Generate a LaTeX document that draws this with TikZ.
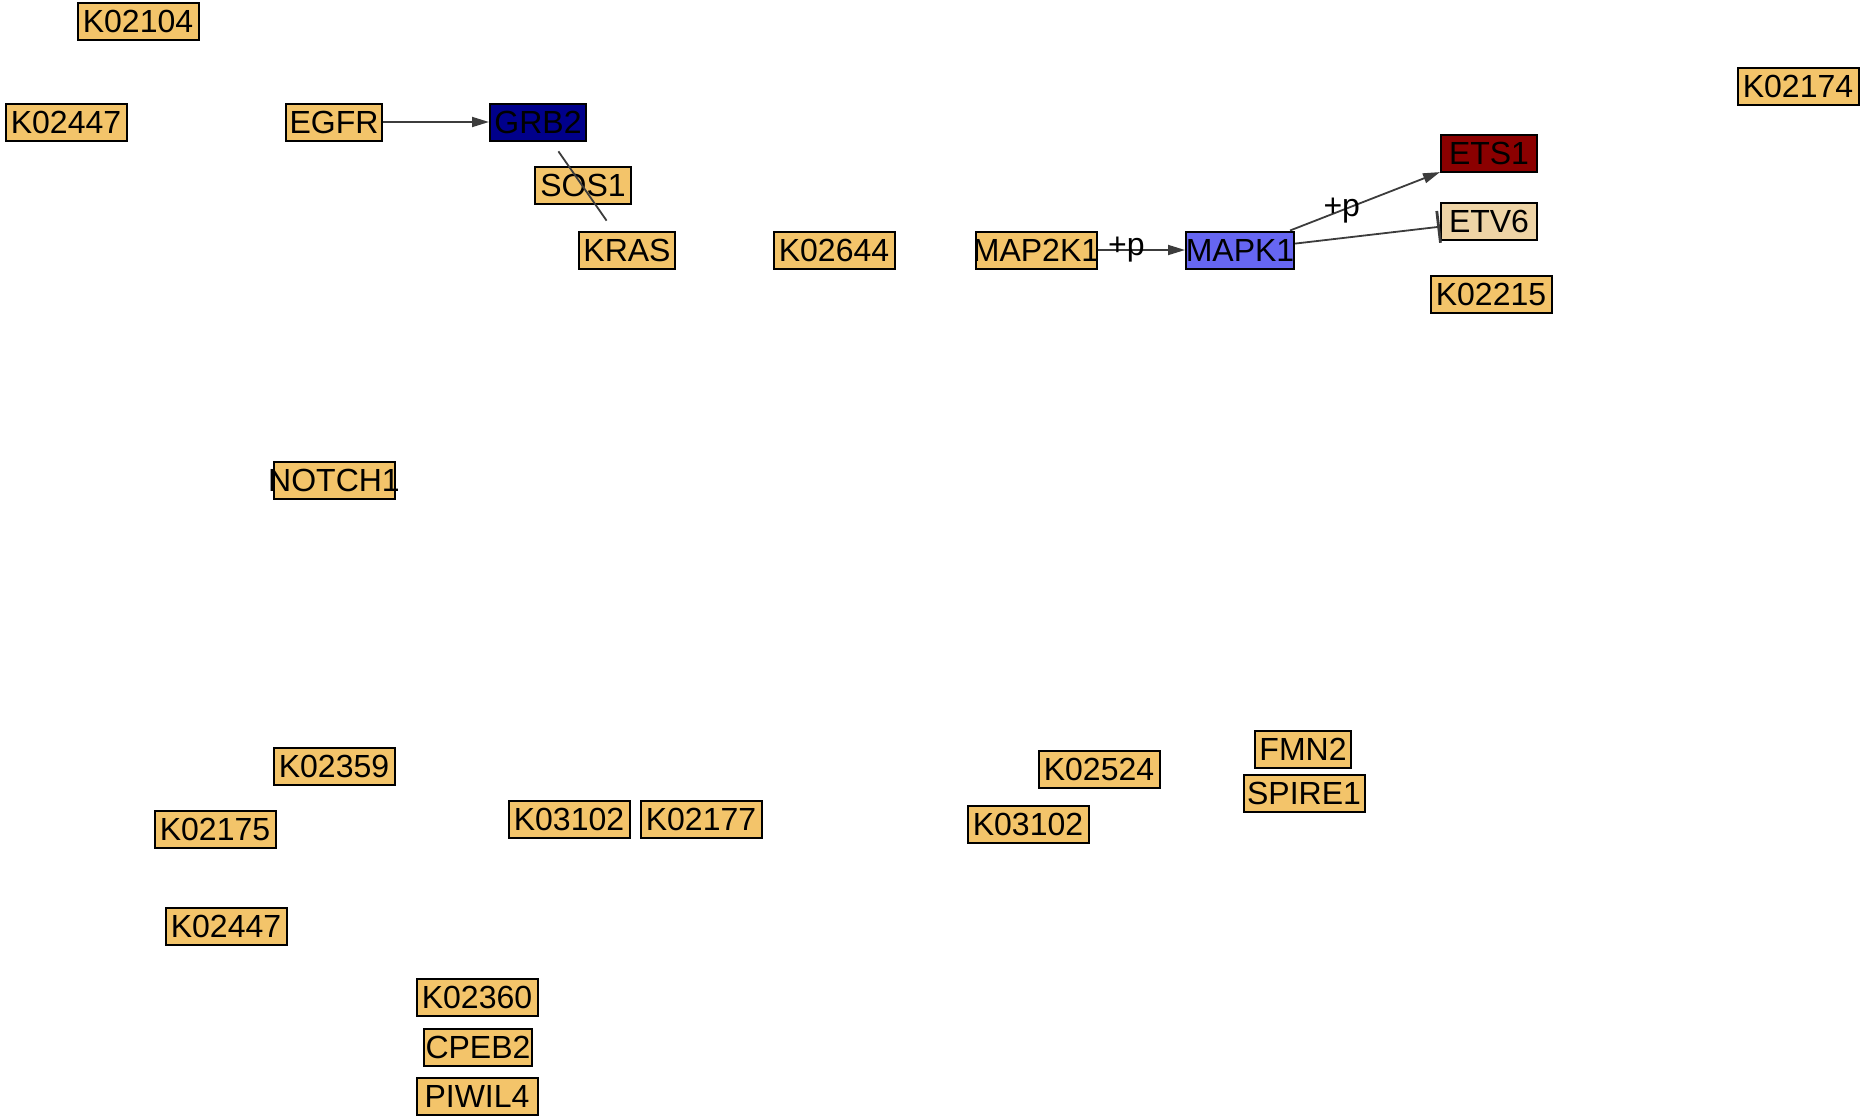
\documentclass[tikz,border=0pt]{standalone}
\usepackage{fontspec}
\setmainfont{Liberation Sans}
\usepackage{tikz}
\usetikzlibrary{arrows.meta}

\definecolor{keggorange}{RGB}{243,196,106}
\definecolor{grbblue}{RGB}{0,0,139}
\definecolor{mapkblue}{RGB}{102,102,242}
\definecolor{etsred}{RGB}{139,0,0}
\definecolor{etvwheat}{RGB}{238,212,166}
\definecolor{edgegray}{RGB}{60,60,60}

\tikzset{
  gene/.style={shape=rectangle,draw=black,fill=keggorange,line width=1pt,
    minimum width=#1,minimum height=18.5pt,inner sep=0pt,
    execute at begin node={\hbox to 0pt\bgroup\hss},
    execute at end node={\hss\egroup}},
  gene/.default=60.5pt,
  rel/.style={draw=edgegray,line width=0.9pt},
  act/.style={rel,-{Triangle[length=8.5pt,width=5pt]}},
  inh/.style={rel,-{Bar[width=16pt,line width=1.4pt]}},
  phos/.style={inner sep=0pt}
}

\begin{document}
\begin{tikzpicture}[x=0.5pt,y=-0.5pt,font=\fontsize{16}{18}\selectfont]
        \useasboundingbox (0,0) rectangle (1862,1119);
        \path (138,21) node (k02104) [gene] {K02104}
              (66,122) node (k02447a) [gene] {K02447}
              (334,122) node (egfr) [gene=48pt] {EGFR}
              (538,122) node (grb2) [gene=48pt,fill=grbblue] {GRB2}
              (583,185) node (sos1) [gene=48pt] {SOS1}
              (627,250) node (kras) [gene=48pt] {KRAS}
              (834,250) node (k02644) [gene] {K02644}
              (1036,250) node (map2k1) [gene] {MAP2K1}
              (1240,250) node (mapk1) [gene=54pt,fill=mapkblue] {MAPK1}
              (1489,153) node (ets1) [gene=48pt,fill=etsred] {ETS1}
              (1489,221) node (etv6) [gene=48pt,fill=etvwheat] {ETV6}
              (1491,294) node (k02215) [gene] {K02215}
              (1798,86) node (k02174) [gene] {K02174}
              (334,480) node (notch1) [gene] {NOTCH1}
              (334,766) node (k02359) [gene] {K02359}
              (215,829) node (k02175) [gene] {K02175}
              (226,926) node (k02447b) [gene] {K02447}
              (569,819) node (k03102a) [gene] {K03102}
              (701,819) node (k02177) [gene] {K02177}
              (1099,769) node (k02524) [gene] {K02524}
              (1028,824) node (k03102b) [gene] {K03102}
              (1303,749) node (fmn2) [gene=48pt] {FMN2}
              (1304,793) node (spire1) [gene] {SPIRE1}
              (477,997) node (k02360) [gene] {K02360}
              (478,1047) node (cpeb2) [gene=54pt] {CPEB2}
              (477,1096) node (piwil4) [gene] {PIWIL4};
        % relations
        \draw[act] (egfr) -- (grb2);
        \draw[rel,shorten <=6pt,shorten >=6pt] (grb2) -- (kras);
        \draw[act] (map2k1) -- node[phos,pos=0.33] (p1) {+p} (mapk1);
        \draw[act] (mapk1) -- node[phos,pos=0.345] (p2) {+p} (ets1);
        \draw[inh] (mapk1) -- (etv6);
    \end{tikzpicture}
\end{document}
